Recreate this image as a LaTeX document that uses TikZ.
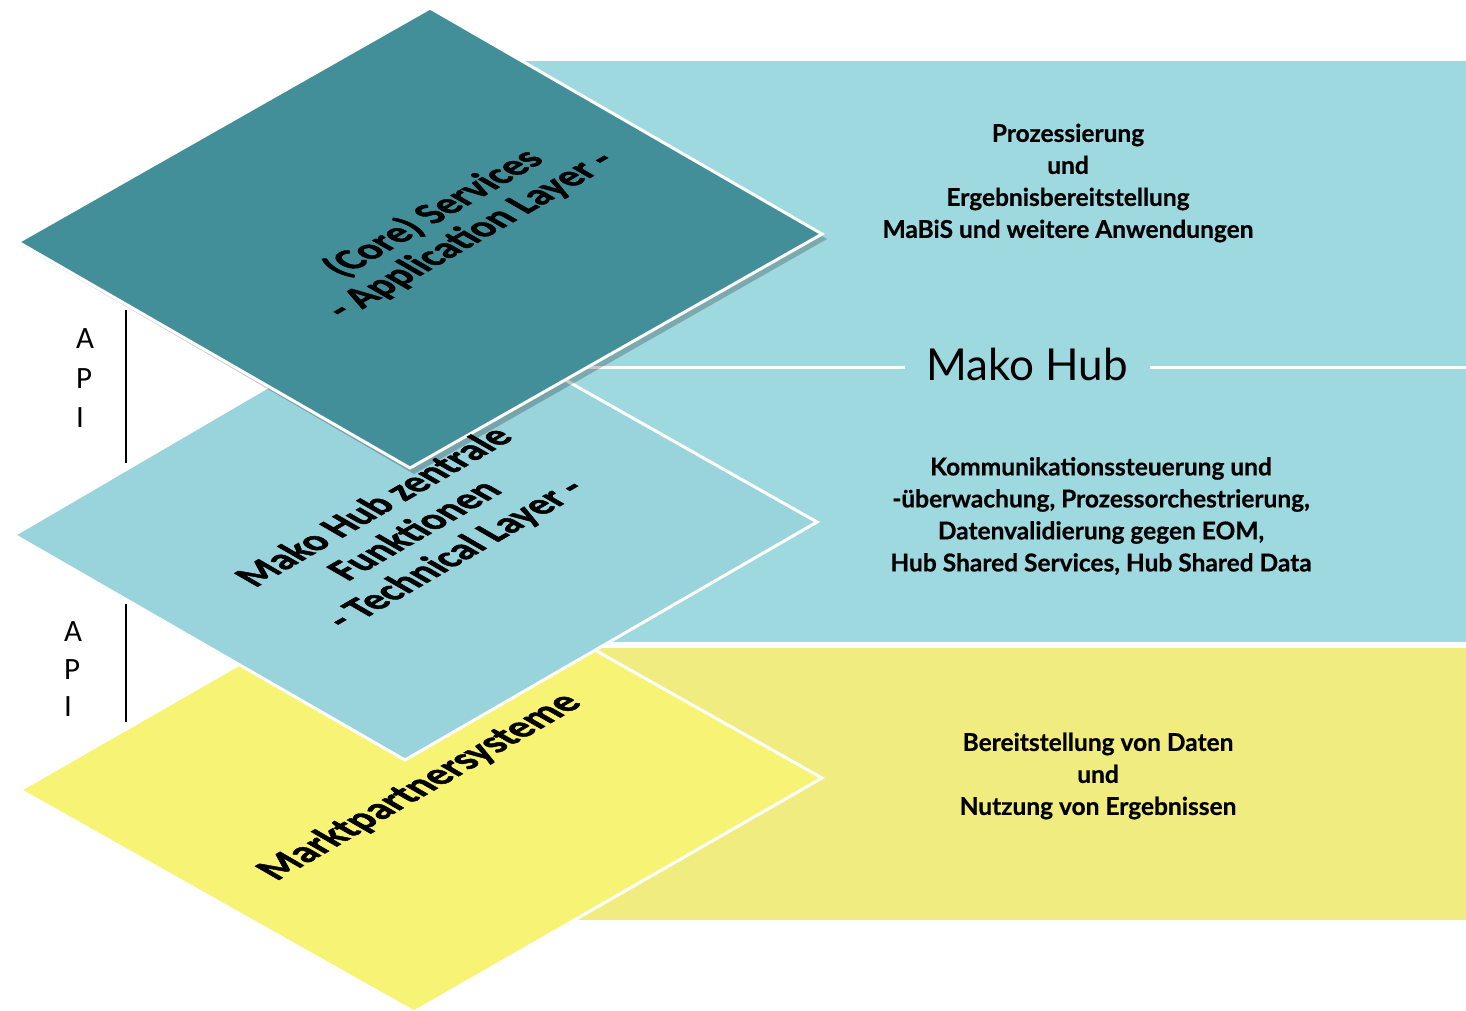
\documentclass[tikz,border=0pt]{standalone}
\usepackage{fontspec}
\setmainfont{Lato}[BoldFeatures={FakeBold=0.6}]
\newfontfamily\diafont{Carlito}[BoldFeatures={FakeBold=1.4}]
\definecolor{coreC}{RGB}{67,143,153}
\definecolor{techC}{RGB}{153,211,219}
\definecolor{bandC}{RGB}{158,217,224}
\definecolor{yelC}{RGB}{247,243,117}
\definecolor{yelband}{RGB}{240,236,128}
\begin{document}
\begin{tikzpicture}[x=1pt,y=-1pt,
  layerbox/.style={draw=white, line width=3pt, line join=miter},
  diatext/.style={transform shape, cm={0.797,0.46,-0.866,0.5,(0,0)}, align=center, inner sep=0pt,
    font=\diafont\bfseries\fontsize{41.5}{47}\selectfont},
  rtext/.style={align=center, inner sep=0pt, font=\bfseries\fontsize{24.5}{32}\selectfont},
  apitext/.style={anchor=base west, inner sep=0pt, font=\diafont\fontsize{31}{31}\selectfont},
  apiline/.style={draw=black, line width=1.4pt},
  hubline/.style={draw=white, line width=3pt}]
\useasboundingbox (0,0) rectangle (1466,1010);
\fill[white] (0,0) rectangle (1466,1010);
% background bands
\fill[bandC] (480,61) rectangle (1466,642);
\fill[yelband] (480,648) rectangle (1466,920);
\coordinate (hl1) at (480,367);
\coordinate (hl2) at (905,367);
\coordinate (hl3) at (1150,367);
\coordinate (hl4) at (1466,367);
\draw[hubline] (hl1) -- (hl2) (hl3) -- (hl4);
% layers
\filldraw[layerbox, fill=yelC] (428,556) -- (822,778) -- (414,1012) -- (20,790) -- cycle;
\filldraw[layerbox, fill=techC] (420,298) -- (817,522) -- (405,760) -- (14,535) -- cycle;
\fill[black, opacity=0.22] (434,12) -- (827,239) -- (414,474) -- (22,246) -- cycle;
\filldraw[layerbox, fill=coreC] (430,8) -- (822,234) -- (410,468) -- (18,242) -- cycle;
% layer labels
\begin{scope}[shift={(452,224)}]
\node[diatext, font=\diafont\bfseries\fontsize{41.5}{43}\selectfont] (core) at (0,0) {(Core) Services\\- Application Layer -};
\end{scope}
\begin{scope}[shift={(416,531)}]
\node[diatext] (tech) at (0,0) {Mako Hub zentrale\\Funktionen\\- Technical Layer -};
\end{scope}
\begin{scope}[shift={(420,787)}]
\node[diatext, font=\diafont\bfseries\fontsize{42.5}{47}\selectfont] (mps) at (0,0) {Marktpartnersysteme};
\end{scope}
% right texts
\node[rtext] (t1) at (1068,183) {Prozessierung\\und\\Ergebnisbereitstellung\\MaBiS und weitere Anwendungen};
\node[font=\fontsize{44}{50}\selectfont, anchor=base, inner sep=0pt] (mh) at (1027,380) {Mako Hub};
\node[rtext] (t2) at (1101,516) {Kommunikationssteuerung und\\-überwachung, Prozessorchestrierung,\\Datenvalidierung gegen EOM,\\Hub Shared Services, Hub Shared Data};
\node[rtext] (t3) at (1098,776) {Bereitstellung von Daten\\und\\Nutzung von Ergebnissen};
% API labels
\node[apitext] (a1) at (76,348) {A};
\node[apitext] (p1) at (76,388) {P};
\node[apitext] (i1) at (76,427) {I};
\coordinate (l1a) at (126,310);
\coordinate (l1b) at (126,463);
\draw[apiline] (l1a) -- (l1b);
\node[apitext] (a2) at (64,641) {A};
\node[apitext] (p2) at (64,679) {P};
\node[apitext] (i2) at (64,716) {I};
\coordinate (l2a) at (126,604);
\coordinate (l2b) at (126,722);
\draw[apiline] (l2a) -- (l2b);
\end{tikzpicture}
\end{document}
